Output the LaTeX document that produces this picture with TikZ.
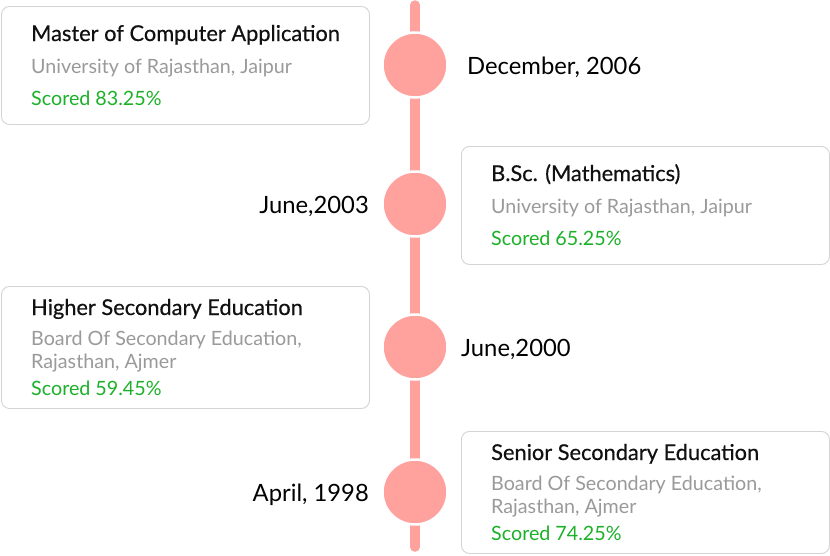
\documentclass[tikz,border=0pt]{standalone}
\usepackage{fontspec}
\setmainfont{Lato}
\newfontface\ttlface{Lato}[FakeBold=0.45]
\definecolor{pinkline}{HTML}{FFA19C}
\definecolor{cardgray}{HTML}{D4D4D4}
\definecolor{subgray}{HTML}{9A9A9A}
\definecolor{scoregreen}{HTML}{1DB12A}
\definecolor{titleblack}{HTML}{111111}
\begin{document}
\begin{tikzpicture}[x=1pt,y=-1pt,
  card/.style={draw=cardgray, line width=0.9pt, rounded corners=8pt, fill=white, minimum width=368pt, anchor=north west, inner sep=0pt},
  dot/.style={circle, fill=pinkline, draw=white, line width=2.5pt, minimum size=65pt, inner sep=0pt},
  rail/.style={draw=pinkline, line width=9.5pt, line cap=round},
  ttl/.style={anchor=base west, inner sep=0pt, font=\ttlface\fontsize{21.8}{24}\selectfont, text=titleblack},
  sub/.style={anchor=base west, inner sep=0pt, font=\fontsize{19.7}{23}\selectfont, text=subgray},
  score/.style={anchor=base west, inner sep=0pt, font=\fontsize{19.7}{23}\selectfont, text=scoregreen},
  datel/.style={anchor=base west, inner sep=0pt, font=\fontsize{23.8}{27}\selectfont, text=black},
  dater/.style={anchor=base east, inner sep=0pt, font=\fontsize{23.8}{27}\selectfont, text=black}]
\useasboundingbox (0,0) rectangle (830,555);
\fill[white] (0,0) rectangle (830,555);
% rail
\coordinate (top) at (415,5);
\coordinate (bot) at (415,547);
\draw[rail] (top) -- (bot);
% cards
\node[card, minimum height=118pt] (c1) at (1,6) {};
\node[card, minimum height=118pt] (c2) at (461,146) {};
\node[card, minimum height=122pt] (c3) at (1,286) {};
\node[card, minimum height=122pt] (c4) at (461,431) {};
% dots
\node[dot] (d1) at (415,65) {};
\node[dot] (d2) at (415,204) {};
\node[dot] (d3) at (415,347) {};
\node[dot] (d4) at (415,492) {};
% card 1
\node[ttl] (t1) at (31,41) {Master of Computer Application};
\node[sub] (s1) at (31,73) {University of Rajasthan, Jaipur};
\node[score] (p1) at (31,105) {Scored 83.25\%};
% card 2
\node[ttl] (t2) at (491,181) {B.Sc. (Mathematics)};
\node[sub] (s2) at (491,213) {University of Rajasthan, Jaipur};
\node[score] (p2) at (491,245) {Scored 65.25\%};
% card 3
\node[ttl] (t3) at (31,315) {Higher Secondary Education};
\node[sub] (s3a) at (31,345) {Board Of Secondary Education,};
\node[sub] (s3b) at (31,368) {Rajasthan, Ajmer};
\node[score] (p3) at (31,395) {Scored 59.45\%};
% card 4
\node[ttl] (t4) at (491,460) {Senior Secondary Education};
\node[sub] (s4a) at (491,490) {Board Of Secondary Education,};
\node[sub] (s4b) at (491,513) {Rajasthan, Ajmer};
\node[score] (p4) at (491,540) {Scored 74.25\%};
% dates
\node[datel] (y1) at (467,74) {December, 2006};
\node[dater] (y2) at (369,213) {June,2003};
\node[datel] (y3) at (461,356) {June,2000};
\node[dater] (y4) at (369,501) {April, 1998};
\end{tikzpicture}
\end{document}
